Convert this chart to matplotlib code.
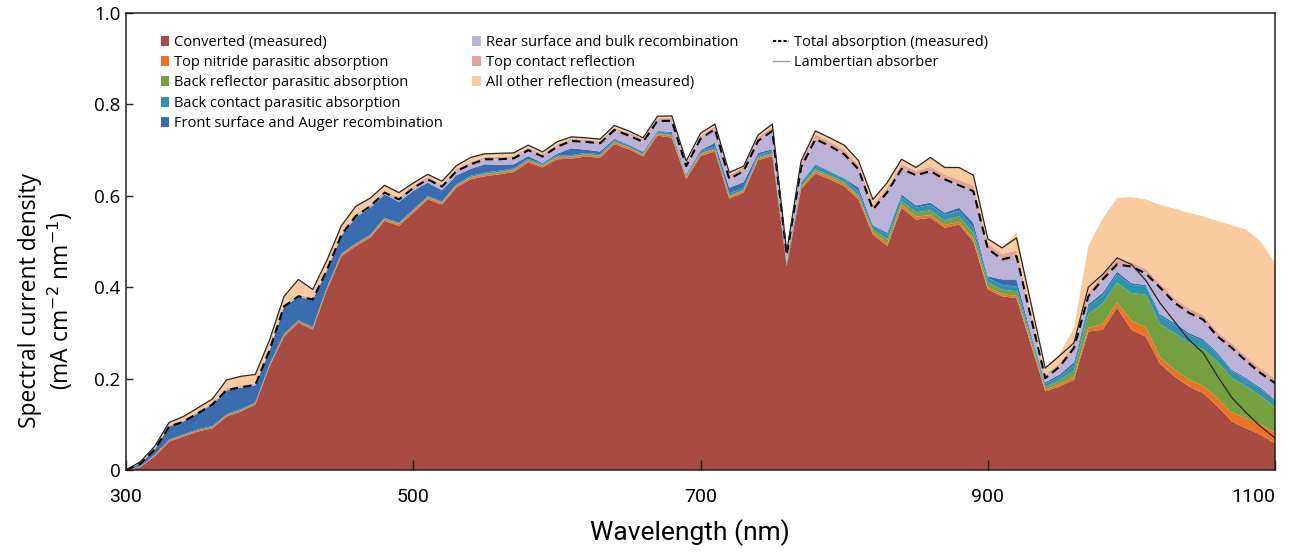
import numpy as np
import matplotlib
matplotlib.use("Agg")
import matplotlib.pyplot as plt
from matplotlib.patches import Patch
from matplotlib.lines import Line2D

# wavelength grid (nm), 10 nm steps as in the measurement
wavelength = np.arange(300, 1110, 10)

# values (mA cm-2 nm-1)
converted = [
    0.000, 0.006, 0.030, 0.062, 0.073, 0.084, 0.091, 0.117, 0.128, 0.143,
    0.227, 0.292, 0.322, 0.307, 0.395, 0.468, 0.490, 0.508, 0.545, 0.534,
    0.563, 0.592, 0.581, 0.618, 0.636, 0.643, 0.647, 0.652, 0.673, 0.662,
    0.680, 0.681, 0.686, 0.683, 0.713, 0.702, 0.686, 0.732, 0.727, 0.637,
    0.687, 0.697, 0.594, 0.607, 0.678, 0.687, 0.446, 0.615, 0.649, 0.636,
    0.621, 0.592, 0.515, 0.490, 0.574, 0.548, 0.552, 0.530, 0.537, 0.500,
    0.395, 0.380, 0.376, 0.275, 0.172, 0.183, 0.197, 0.303, 0.307, 0.355,
    0.307, 0.292, 0.232, 0.205, 0.183, 0.168, 0.139, 0.106, 0.091, 0.077,
    0.058]

top_nitride = (
    [0, .001, .002, .003, .003, .003, .003, .003, .003, .003]
    + [.003] + [.004] * 9
    + [.004] * 10
    + [.004] * 10
    + [.004, .004, .004, .004, .004, .004, .002, .004, .005, .005,
       .005, .005, .006, .006, .006, .006, .006, .006, .006, .006,
       .005, .005, .005, .005, .004, .005, .006, .008, .012, .012,
       .020, .020, .015, .015, .015, .016, .018, .020, .022, .023, .024])

back_reflector = (
    [0] * 17 + [.001] * 21
    + [.002, .002, .002, .002, .002, .002, .002, .002, .001, .003,
       .004, .004, .004, .004, .006, .008, .008, .010, .010, .010,
       .012, .012, .010, .010, .010, .008, .006, .008, .015, .030,
       .045, .043, .060, .072, .072, .080, .080, .080, .080, .075,
       .070, .062, .055])

back_contact = (
    [0, .001, .001] + [.002] * 21 + [.003] * 10 + [.004] * 6
    + [.005, .005, .005, .005, .005, .006, .003, .006, .008, .008,
       .008, .008, .008, .010, .010, .010, .012, .012, .012, .012,
       .010, .010, .010, .008, .006, .008, .012, .016, .018, .018,
       .018, .018, .018, .018, .018, .018, .017, .015, .015, .015, .015])

rear_bulk = (
    [0] * 7 + [.001] * 7
    + [.002, .002, .003, .003, .004, .005,
       .006, .007, .008, .009, .010, .011, .012, .013, .013, .014,
       .015, .016, .017, .018, .019, .020, .021, .022, .024, .018,
       .025, .030, .019, .024, .026, .040, .015, .032, .055, .055,
       .052, .040, .034, .089, .056, .066, .069, .073, .049, .069,
       .060, .044, .051, .035, .009, .017, .031, .017, .029, .016,
       .036, .025, .058, .044, .044, .043, .035, .048, .037, .032,
       .036])

total_absorption = [
    0.000, 0.014, 0.045, 0.095, 0.106, 0.124, 0.143, 0.175, 0.181, 0.186,
    0.263, 0.358, 0.380, 0.373, 0.439, 0.515, 0.556, 0.577, 0.607, 0.592,
    0.617, 0.636, 0.620, 0.654, 0.669, 0.680, 0.680, 0.682, 0.700, 0.686,
    0.707, 0.720, 0.718, 0.715, 0.744, 0.732, 0.718, 0.764, 0.764, 0.665,
    0.725, 0.746, 0.637, 0.654, 0.720, 0.742, 0.470, 0.662, 0.724, 0.709,
    0.691, 0.658, 0.570, 0.608, 0.659, 0.645, 0.654, 0.636, 0.623, 0.610,
    0.484, 0.461, 0.468, 0.335, 0.201, 0.226, 0.267, 0.380, 0.417, 0.450,
    0.445, 0.430, 0.399, 0.366, 0.344, 0.329, 0.292, 0.267, 0.238, 0.212,
    0.190]

top_contact = ([0, .001, .002] + [.003] * 4 + [.004] * 13 + [.005] * 15
               + [.006] * 7 + [.008] * 4 + [.003] + [.010] * 11 + [.012] * 5
               + [.010, .008, .008, .008] + [.010] * 14)

incident = [
    0.000, 0.018, 0.052, 0.104, 0.117, 0.136, 0.155, 0.197, 0.205, 0.209,
    0.285, 0.380, 0.417, 0.395, 0.460, 0.535, 0.577, 0.595, 0.623, 0.607,
    0.628, 0.647, 0.632, 0.666, 0.684, 0.692, 0.693, 0.694, 0.711, 0.696,
    0.718, 0.729, 0.727, 0.724, 0.754, 0.742, 0.727, 0.774, 0.775, 0.676,
    0.737, 0.757, 0.651, 0.665, 0.733, 0.757, 0.477, 0.676, 0.742, 0.727,
    0.711, 0.677, 0.592, 0.629, 0.680, 0.662, 0.684, 0.662, 0.662, 0.645,
    0.506, 0.486, 0.520, 0.368, 0.223, 0.255, 0.310, 0.490, 0.550, 0.595,
    0.597, 0.592, 0.580, 0.572, 0.563, 0.555, 0.545, 0.535, 0.526, 0.500,
    0.453]

# Lambertian limit follows the incident flux up to 910 nm
lambertian_tail = [0.508, 0.366, 0.223, 0.250, 0.278, 0.400, 0.428, 0.464,
                   0.450, 0.415, 0.365, 0.325, 0.285, 0.256, 0.205, 0.158,
                   0.125, 0.095, 0.070]
lambertian = np.concatenate([incident[:62], lambertian_tail])

labels = ["Converted (measured)", "Top nitride parasitic absorption",
          "Back reflector parasitic absorption",
          "Back contact parasitic absorption",
          "Front surface and Auger recombination",
          "Rear surface and bulk recombination", "Top contact reflection",
          "All other reflection (measured)"]
colors = ["#a84c43", "#ea7424", "#74a040", "#2f93ae", "#3a6db0",
          "#bcb1d6", "#e3a39a", "#f9cb9e"]

# remaining parts of the stack
absorbed_known = (np.array(converted) + np.array(top_nitride) + np.array(back_reflector)
                  + np.array(back_contact) + np.array(rear_bulk))
front_auger = np.clip(np.array(total_absorption) - absorbed_known, 0, None)
other_reflection = np.clip(np.array(incident) - np.array(total_absorption)
                           - np.array(top_contact), 0, None)

layers = [converted, top_nitride, back_reflector, back_contact, front_auger,
          rear_bulk, top_contact, other_reflection]

narrow = ["Roboto", "Open Sans", "DejaVu Sans"]
wide = ["Open Sans", "DejaVu Sans"]

fig = plt.figure(figsize=(12.9, 5.52), dpi=100)
ax = fig.add_axes([0.0977, 0.1486, 0.8907, 0.8278])

ax.stackplot(wavelength, layers, colors=colors, linewidth=0)
ax.plot(wavelength, total_absorption, color="black", lw=1.5, ls=(0, (4, 2.5)))
ax.plot(wavelength, lambertian, color="#262626", lw=0.9)

ax.set_xlim(300, 1100)
ax.set_ylim(0, 1.0)
ax.set_xticks([300, 500, 700, 900, 1100])
ax.set_yticks([0, 0.2, 0.4, 0.6, 0.8, 1.0])
ax.set_yticklabels(["0", "0.2", "0.4", "0.6", "0.8", "1.0"], family=wide, fontsize=13.5)
xt = ax.set_xticklabels(["300", "500", "700", "900", "1100"], family=narrow, fontsize=14)
xt[-1].set_horizontalalignment("right")
xt[-1].set_x(1108)
ax.tick_params(axis="x", direction="in", length=7, width=1, pad=13, color="#222222")
ax.tick_params(axis="y", direction="in", length=5, width=1, pad=4, color="#222222")
for s in ax.spines.values():
    s.set_linewidth(1.1)
    s.set_color("#222222")

fig.text(0.036, 0.455, "Spectral current density\n(mA cm$^{-2}$ nm$^{-1}$)",
         rotation=90, ha="center", va="center", ma="center",
         family=wide, fontsize=16.5, linespacing=1.15)
fig.text(0.535, 0.036, "Wavelength (nm)", ha="center", va="center",
         family=narrow, fontsize=19)

# legend in three columns
handles = [Patch(facecolor=c, edgecolor="none") for c in colors]
leg_kw = dict(frameon=False, prop={"family": wide, "size": 10.5},
              loc="upper left", borderpad=0, borderaxespad=0,
              handlelength=0.6, handleheight=0.7, handletextpad=0.35,
              labelspacing=0.36)
leg1 = ax.legend(handles[:5], labels[:5], bbox_to_anchor=(0.030, 0.952), **leg_kw)
ax.add_artist(leg1)
leg2 = ax.legend(handles[5:], labels[5:], bbox_to_anchor=(0.301, 0.952), **leg_kw)
ax.add_artist(leg2)
line_handles = [Line2D([], [], color="black", lw=1.5, ls=(0, (1.5, 1))),
                Line2D([], [], color="#9a9a9a", lw=1.0)]
leg_kw["handlelength"] = 1.1
ax.legend(line_handles, ["Total absorption (measured)", "Lambertian absorber"],
          bbox_to_anchor=(0.563, 0.952), **leg_kw)

fig.savefig("out.png", dpi=100)
